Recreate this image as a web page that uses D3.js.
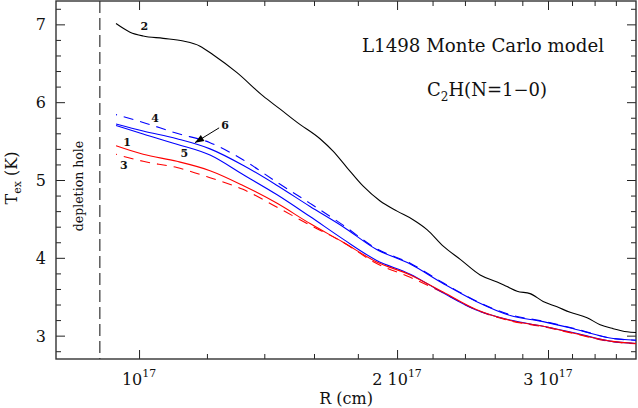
<!DOCTYPE html>
<html>
<head>
<meta charset="utf-8">
<script src="https://cdn.jsdelivr.net/npm/d3@7"></script>
<style>
body { margin: 0; background: #fff; }
svg { display: block; }
text { font-family: "DejaVu Serif", serif; fill: #111; }
</style>
</head>
<body>
<script>
/* Data (R in units of 1e17 cm, Tex in K)
***********************************************************************/
// curve 2 (black)
var rBlack = [0.940, 0.976, 1.011, 1.067, 1.126, 1.178, 1.220, 1.301, 1.395, 1.461, 1.529, 1.626, 1.684, 1.748,
	1.826, 1.911, 2.000, 2.088, 2.169, 2.264, 2.370, 2.500, 2.617, 2.688, 2.761, 2.859, 2.961, 3.074,
	3.184, 3.332, 3.451, 3.573, 3.710, 3.800];
var tBlack = [7.01, 6.90, 6.85, 6.82, 6.785, 6.72, 6.61, 6.38, 6.08, 5.91, 5.74, 5.53, 5.37, 5.16,
	4.92, 4.73, 4.60, 4.49, 4.36, 4.15, 3.98, 3.78, 3.69, 3.63, 3.57, 3.54, 3.44, 3.37,
	3.30, 3.23, 3.14, 3.09, 3.05, 3.04];

// shared radius grid for curves 1, 3, 4, 5, 6
var rGrid = [0.940, 1.011, 1.107, 1.210, 1.322, 1.449, 1.583, 1.730, 1.891, 2.072, 2.263, 2.474, 2.710, 2.961, 3.236, 3.544, 3.800];
var tRed1  = [5.44, 5.33, 5.24, 5.12, 4.93, 4.70, 4.44, 4.20, 3.95, 3.78, 3.56, 3.335, 3.195, 3.12, 3.025, 2.93, 2.90];
var tRed3  = [5.33, 5.24, 5.16, 5.03, 4.88, 4.65, 4.42, 4.20, 3.93, 3.75, 3.55, 3.33, 3.19, 3.115, 3.02, 2.925, 2.895];
var tBlue4 = [5.84, 5.74, 5.60, 5.48, 5.26, 4.97, 4.70, 4.42, 4.12, 3.93, 3.68, 3.445, 3.27, 3.185, 3.085, 2.97, 2.94];
var tBlue5 = [5.70, 5.59, 5.46, 5.32, 5.07, 4.81, 4.53, 4.24, 3.97, 3.79, 3.55, 3.33, 3.20, 3.12, 3.03, 2.93, 2.90];
var tBlue6 = [5.72, 5.63, 5.53, 5.40, 5.19, 4.93, 4.66, 4.40, 4.11, 3.92, 3.67, 3.44, 3.26, 3.18, 3.08, 2.97, 2.94];

// ticks
var xMajor = [1, 2, 3];
var xMajorPrefix = ["", "2 ", "3 "];
var xMinor = [1.2, 1.4, 1.6, 1.8, 2.2, 2.4, 2.6, 2.8, 3.2, 3.4, 3.6];
var yMajor = [3, 4, 5, 6, 7];
var yMinor = [2.8, 3.2, 3.4, 3.6, 3.8, 4.2, 4.4, 4.6, 4.8, 5.2, 5.4, 5.6, 5.8, 6.2, 6.4, 6.6, 6.8, 7.2];

// depletion hole edge
var rHole = 0.9;

// curve number labels (data coords)
var curveNames = ["2", "4", "1", "3", "5", "6"];
var nameR = [1.014, 1.044, 0.968, 0.960, 1.129, 1.260];
var nameT = [6.98, 5.79, 5.48, 5.19, 5.35, 5.71];
// arrow from label 6 to curve 6
var arrowR = [1.240, 1.162];
var arrowT = [5.67, 5.48];


/* Setup
***********************************************************************/
var svgW = 638, svgH = 408;
var pLeft = 56, pRight = 636, pTop = 1, pBottom = 359;

var svg = d3.select("body").append("svg")
	.attr("width", svgW)
	.attr("height", svgH);

var xScale = d3.scaleLog().domain([0.8, 3.8]).range([pLeft, pRight]);
var yScale = d3.scaleLinear().domain([2.7, 7.3]).range([pBottom, pTop]);


/* Axes (ticks inward on all four sides)
***********************************************************************/
function tickAxis(gen, tr) {
	var g = svg.append("g")
		.attr("transform", tr)
		.attr("color", "#222")
		.call(gen);
	g.select(".domain").remove();
	g.selectAll("text").remove();
	return g;
}

tickAxis(d3.axisBottom(xScale).tickValues(xMajor).tickSize(-9).tickSizeOuter(0), "translate(0," + pBottom + ")");
tickAxis(d3.axisBottom(xScale).tickValues(xMinor).tickSize(-5).tickSizeOuter(0), "translate(0," + pBottom + ")");
tickAxis(d3.axisTop(xScale).tickValues(xMajor).tickSize(-9).tickSizeOuter(0), "translate(0," + pTop + ")");
tickAxis(d3.axisTop(xScale).tickValues(xMinor).tickSize(-5).tickSizeOuter(0), "translate(0," + pTop + ")");
tickAxis(d3.axisLeft(yScale).tickValues(yMajor).tickSize(-9).tickSizeOuter(0), "translate(" + pLeft + ",0)");
tickAxis(d3.axisLeft(yScale).tickValues(yMinor).tickSize(-5).tickSizeOuter(0), "translate(" + pLeft + ",0)");
tickAxis(d3.axisRight(yScale).tickValues(yMajor).tickSize(-9).tickSizeOuter(0), "translate(" + pRight + ",0)");
tickAxis(d3.axisRight(yScale).tickValues(yMinor).tickSize(-5).tickSizeOuter(0), "translate(" + pRight + ",0)");

// frame
svg.append("rect")
	.attr("x", pLeft).attr("y", pTop)
	.attr("width", pRight - pLeft).attr("height", pBottom - pTop)
	.attr("fill", "none")
	.attr("stroke", "#333")
	.attr("stroke-width", 1.4);

// x tick labels: "10^17", "2 10^17", "3 10^17"
xMajor.forEach(function(v, i) {
	var t = svg.append("text")
		.attr("x", xScale(v))
		.attr("y", 385)
		.attr("text-anchor", "middle")
		.attr("font-size", 16);
	t.append("tspan").text(xMajorPrefix[i] + "10");
	t.append("tspan").attr("dy", -8).attr("font-size", 11).text("17");
});

// y tick labels
yMajor.forEach(function(v) {
	svg.append("text")
		.attr("x", 46)
		.attr("y", yScale(v) + 6)
		.attr("text-anchor", "end")
		.attr("font-size", 16)
		.text(v);
});

// axis titles
svg.append("text")
	.attr("x", 346).attr("y", 404)
	.attr("text-anchor", "middle")
	.attr("font-size", 16)
	.text("R (cm)");

var yTitle = svg.append("text")
	.attr("transform", "translate(17,178) rotate(-90)")
	.attr("text-anchor", "middle")
	.attr("font-size", 16);
yTitle.append("tspan").text("T");
yTitle.append("tspan").attr("dy", 4).attr("font-size", 11).text("ex");
yTitle.append("tspan").attr("dy", -4).text(" (K)");


/* Depletion hole
***********************************************************************/
svg.append("line")
	.attr("x1", xScale(rHole)).attr("x2", xScale(rHole))
	.attr("y1", pTop).attr("y2", pBottom)
	.attr("stroke", "#333")
	.attr("stroke-width", 1.2)
	.attr("stroke-dasharray", "12,5");

svg.append("text")
	.attr("transform", "translate(83,186) rotate(-90)")
	.attr("text-anchor", "middle")
	.attr("font-size", 12.5)
	.text("depletion hole");


/* Curves
***********************************************************************/
var line = d3.line()
	.x(function(d) { return xScale(d[0]); })
	.y(function(d) { return yScale(d[1]); })
	.curve(d3.curveMonotoneX);

function drawCurve(rs, ts, color, dash) {
	var p = svg.append("path")
		.attr("d", line(d3.zip(rs, ts)))
		.attr("fill", "none")
		.attr("stroke", color)
		.attr("stroke-width", 1.1);
	if (dash) {
		p.attr("stroke-dasharray", "10,7").attr("stroke-dashoffset", 9);
	}
}

drawCurve(rBlack, tBlack, "#000", false);
drawCurve(rGrid, tBlue4, "#0000ff", true);
drawCurve(rGrid, tRed3, "#ff0000", true);
drawCurve(rGrid, tBlue6, "#0000ff", false);
drawCurve(rGrid, tBlue5, "#0000ff", false);
drawCurve(rGrid, tRed1, "#ff0000", false);


/* Labels
***********************************************************************/
curveNames.forEach(function(n, i) {
	svg.append("text")
		.attr("x", xScale(nameR[i]))
		.attr("y", yScale(nameT[i]))
		.attr("dy", "0.35em")
		.attr("text-anchor", "middle")
		.attr("font-size", 11)
		.attr("font-weight", "bold")
		.text(n);
});

// arrow 6 -> curve
var ax1 = xScale(arrowR[0]), ay1 = yScale(arrowT[0]);
var ax2 = xScale(arrowR[1]), ay2 = yScale(arrowT[1]);
svg.append("line")
	.attr("x1", ax1).attr("y1", ay1)
	.attr("x2", ax2).attr("y2", ay2)
	.attr("stroke", "#000")
	.attr("stroke-width", 1);
var ang = Math.atan2(ay2 - ay1, ax2 - ax1);
var hl = 9, hw = 3.5;
var bx = ax2 - hl * Math.cos(ang), by = ay2 - hl * Math.sin(ang);
svg.append("path")
	.attr("d", "M" + ax2 + "," + ay2 +
		"L" + (bx + hw * Math.sin(ang)) + "," + (by - hw * Math.cos(ang)) +
		"L" + (bx - hw * Math.sin(ang)) + "," + (by + hw * Math.cos(ang)) + "Z")
	.attr("fill", "#000");

// titles
svg.append("text")
	.attr("x", 362).attr("y", 52)
	.attr("font-size", 18)
	.attr("textLength", 242)
	.attr("lengthAdjust", "spacingAndGlyphs")
	.text("L1498 Monte Carlo model");

var mol = svg.append("text")
	.attr("x", 427).attr("y", 96)
	.attr("font-size", 18);
mol.append("tspan").text("C");
mol.append("tspan").attr("dy", 5).attr("font-size", 12).text("2");
mol.append("tspan").attr("dy", -5).text("H(N=1\u22120)");
</script>
</body>
</html>
